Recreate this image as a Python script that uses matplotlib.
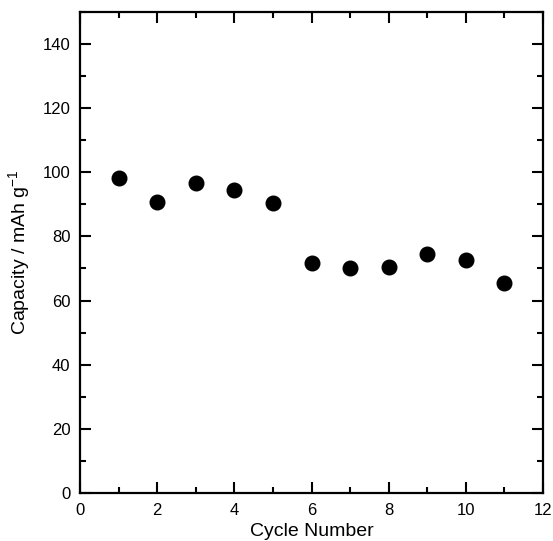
import matplotlib
matplotlib.use("Agg")
import matplotlib.pyplot as plt
from matplotlib.ticker import MultipleLocator

cycle = [1, 2, 3, 4, 5, 6, 7, 8, 9, 10, 11]
capacity = [98.3, 90.8, 96.8, 94.6, 90.5, 71.6, 70.3, 70.6, 74.4, 72.8, 65.6]

plt.rcParams['font.family'] = ['Liberation Sans', 'DejaVu Sans']

fig = plt.figure(figsize=(5.53, 5.41), dpi=100)
ax = fig.add_axes([0.1447, 0.0887, 0.8373, 0.8893])

ax.plot(cycle, capacity, 'o', color='black', markersize=10.5, linestyle='none')

ax.set_xlim(0, 12)
ax.set_ylim(0, 150)
ax.xaxis.set_major_locator(MultipleLocator(2))
ax.xaxis.set_minor_locator(MultipleLocator(1))
ax.yaxis.set_minor_locator(MultipleLocator(10))
ax.set_yticks([0, 20, 40, 60, 80, 100, 120, 140])

ax.tick_params(which='both', direction='in', top=True, right=True, width=1.5, labelsize=12, pad=7)
ax.tick_params(which='major', length=8)
ax.tick_params(which='minor', length=4.5)
for s in ax.spines.values():
    s.set_linewidth(1.6)

ax.set_xlabel('Cycle Number', fontsize=14, labelpad=4)
ax.set_ylabel('Capacity / mAh g$^{\\mathregular{-1}}$', fontsize=14, labelpad=7)

fig.savefig('out.png', dpi=100)
